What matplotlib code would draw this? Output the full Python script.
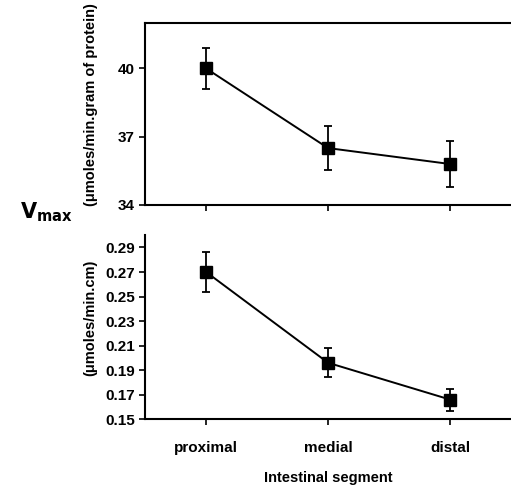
import numpy as np
import matplotlib.pyplot as plt

segments = ['proximal', 'medial', 'distal']
vmax_protein = [40.0, 36.5, 35.8]
err_protein = [0.9, 0.95, 1.0]
vmax_cm = [0.270, 0.196, 0.166]
err_cm = [0.016, 0.012, 0.009]

plt.rcParams['font.family'] = ['Liberation Sans', 'DejaVu Sans']
plt.rcParams['font.weight'] = 'bold'

fig = plt.figure(figsize=(5.11, 4.88), dpi=100)
ax1 = fig.add_axes([0.284, 0.580, 0.716, 0.373])
ax2 = fig.add_axes([0.284, 0.141, 0.716, 0.377])

x = np.arange(1, len(segments) + 1)

ax1.errorbar(x, vmax_protein, yerr=err_protein, color='black', marker='s',
             markersize=8, linewidth=1.4, elinewidth=1.3, capsize=3, capthick=1.3)
ax1.set_xlim(0.5, 3.5)
ax1.set_ylim(34, 42)
ax1.set_yticks([34, 37, 40])
ax1.set_xticks(x)
ax1.set_xticklabels([])
ax1.spines['right'].set_visible(False)
for s in ['top', 'left', 'bottom']:
    ax1.spines[s].set_linewidth(1.5)
ax1.tick_params(direction='out', length=4, width=1.2, labelsize=11)
ax1.set_ylabel('(\u03bcmoles/min.gram of protein)', fontsize=10.5, fontweight='bold')
ax1.yaxis.set_label_coords(-0.13, 0.55)

ax2.errorbar(x, vmax_cm, yerr=err_cm, color='black', marker='s',
             markersize=8, linewidth=1.4, elinewidth=1.3, capsize=3, capthick=1.3)
ax2.set_xlim(0.5, 3.5)
ax2.set_ylim(0.15, 0.30)
ax2.set_yticks([0.15, 0.17, 0.19, 0.21, 0.23, 0.25, 0.27, 0.29])
ax2.set_xticks(x)
ax2.set_xticklabels(segments)
ax2.spines['right'].set_visible(False)
ax2.spines['top'].set_visible(False)
for s in ['left', 'bottom']:
    ax2.spines[s].set_linewidth(1.5)
ax2.tick_params(direction='out', length=4, width=1.2, labelsize=11)
ax2.tick_params(axis='x', pad=12)
ax2.set_ylabel('(\u03bcmoles/min.cm)', fontsize=10.5, fontweight='bold')
ax2.yaxis.set_label_coords(-0.13, 0.55)
ax2.set_xlabel('Intestinal segment', fontsize=10.5, fontweight='bold', labelpad=11)

fig.text(0.04, 0.565, r'$\mathbf{V_{max}}$', fontsize=15, ha='left', va='center')

fig.savefig('out.png', dpi=100)
